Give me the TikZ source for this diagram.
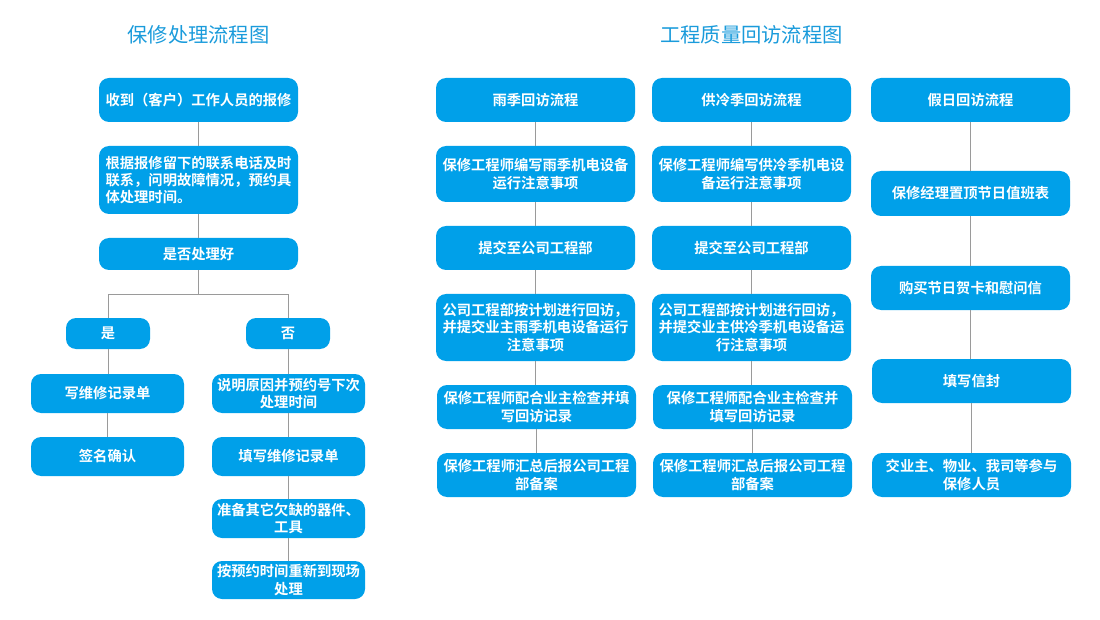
\documentclass[tikz,border=0pt]{standalone}
\usepackage{fontspec}
\setmainfont{Noto Sans CJK SC}[BoldFont={Noto Sans CJK SC Bold}]
\definecolor{boxblue}{HTML}{00A0E9}
\definecolor{titleblue}{HTML}{1A9BDB}
\definecolor{linegray}{HTML}{9A9A9A}
\tikzset{
  fbox/.style={fill=boxblue, draw=none, rounded corners=10pt, text=white, font=\bfseries\fontsize{14.3}{17.4}\selectfont, align=center, inner sep=0pt},
  fboxl/.style={fbox, align=left},
  link/.style={draw=linegray, line width=1pt},
  ttl/.style={text=titleblue, font=\fontsize{20.3}{24}\selectfont}
}
% \bx[style]{name}{x1}{y1}{x2}{y2}{text}
\newcommand{\bx}[7][fbox]{\node[#1, minimum width={(#5-#3)*1pt}, minimum height={(#6-#4)*1pt}] (#2) at ({(#3+#5)/2},{(#4+#6)/2}) {#7};}
\newcommand{\lk}[2]{\draw[link] (#1.south) -- (#1.south |- #2.north);}
\begin{document}
\begin{tikzpicture}[x=1pt,y=-1pt]
\useasboundingbox (0,0) rectangle (1100,620);
\node[ttl] (t1) at (198.5,35) {保修处理流程图};
\node[ttl] (t2) at (751.5,35) {工程质量回访流程图};
% left flow
\bx{L1}{99}{78}{298}{122}{收到（客户）工作人员的报修}
\bx[fboxl]{L2}{99}{146}{298}{214}{根据报修留下的联系电话及时\\联系，问明故障情况，预约具\\体处理时间。}
\bx{L3}{99}{238}{298}{270}{是否处理好}
\bx{Y}{66}{318}{150}{349}{是}
\bx{N}{246}{318}{330}{349}{否}
\bx{Y1}{31}{374}{184}{413}{写维修记录单}
\bx{Y2}{31}{437}{184}{476}{签名确认}
\bx{N1}{212}{374}{365}{413}{说明原因并预约号下次\\处理时间}
\bx{N2}{212}{437}{365}{476}{填写维修记录单}
\bx{N3}{212}{499}{365}{538}{准备其它欠缺的器件、\\工具}
\bx{N4}{212}{561}{365}{599}{按预约时间重新到现场\\处理}
% column A
\bx{A1}{436}{78}{635}{122}{雨季回访流程}
\bx{A2}{436}{146}{635}{202}{保修工程师编写雨季机电设备\\运行注意事项}
\bx{A3}{436}{226}{635}{270}{提交至公司工程部}
\bx{A4}{436}{294}{635}{361}{公司工程部按计划进行回访，\\并提交业主雨季机电设备运行\\注意事项}
\bx{A5}{437}{385}{636}{429}{保修工程师配合业主检查并填\\写回访记录}
\bx{A6}{437}{453}{636}{497}{保修工程师汇总后报公司工程\\部备案}
% column B
\bx{B1}{652}{78}{851}{122}{供冷季回访流程}
\bx{B2}{652}{146}{851}{202}{保修工程师编写供冷季机电设\\备运行注意事项}
\bx{B3}{652}{226}{851}{270}{提交至公司工程部}
\bx{B4}{652}{294}{851}{361}{公司工程部按计划进行回访，\\并提交业主供冷季机电设备运\\行注意事项}
\bx{B5}{653}{385}{852}{429}{保修工程师配合业主检查并\\填写回访记录}
\bx{B6}{653}{453}{852}{497}{保修工程师汇总后报公司工程\\部备案}
% column C
\bx{C1}{871}{78}{1070}{122}{假日回访流程}
\bx{C2}{871}{171}{1070}{216}{保修经理置顶节日值班表}
\bx{C3}{871}{266}{1070}{310}{购买节日贺卡和慰问信}
\bx{C4}{872}{359}{1071}{403}{填写信封}
\bx{C5}{872}{453}{1071}{497}{交业主、物业、我司等参与\\保修人员}
% links
\lk{L1}{L2}
\lk{L2}{L3}
\draw[link] (L3.south) -- ++(0,24) coordinate (br) -| (Y.north);
\draw[link] (br) -| (N.north);
\lk{Y}{Y1}
\lk{Y1}{Y2}
\lk{N}{N1}
\lk{N1}{N2}
\lk{N2}{N3}
\lk{N3}{N4}
\foreach \c in {A,B}{
  \lk{\c1}{\c2}
  \lk{\c2}{\c3}
  \lk{\c3}{\c4}
  \lk{\c4}{\c5}
  \lk{\c5}{\c6}
}
\lk{C1}{C2}
\lk{C2}{C3}
\lk{C3}{C4}
\lk{C4}{C5}
\end{tikzpicture}
\end{document}
